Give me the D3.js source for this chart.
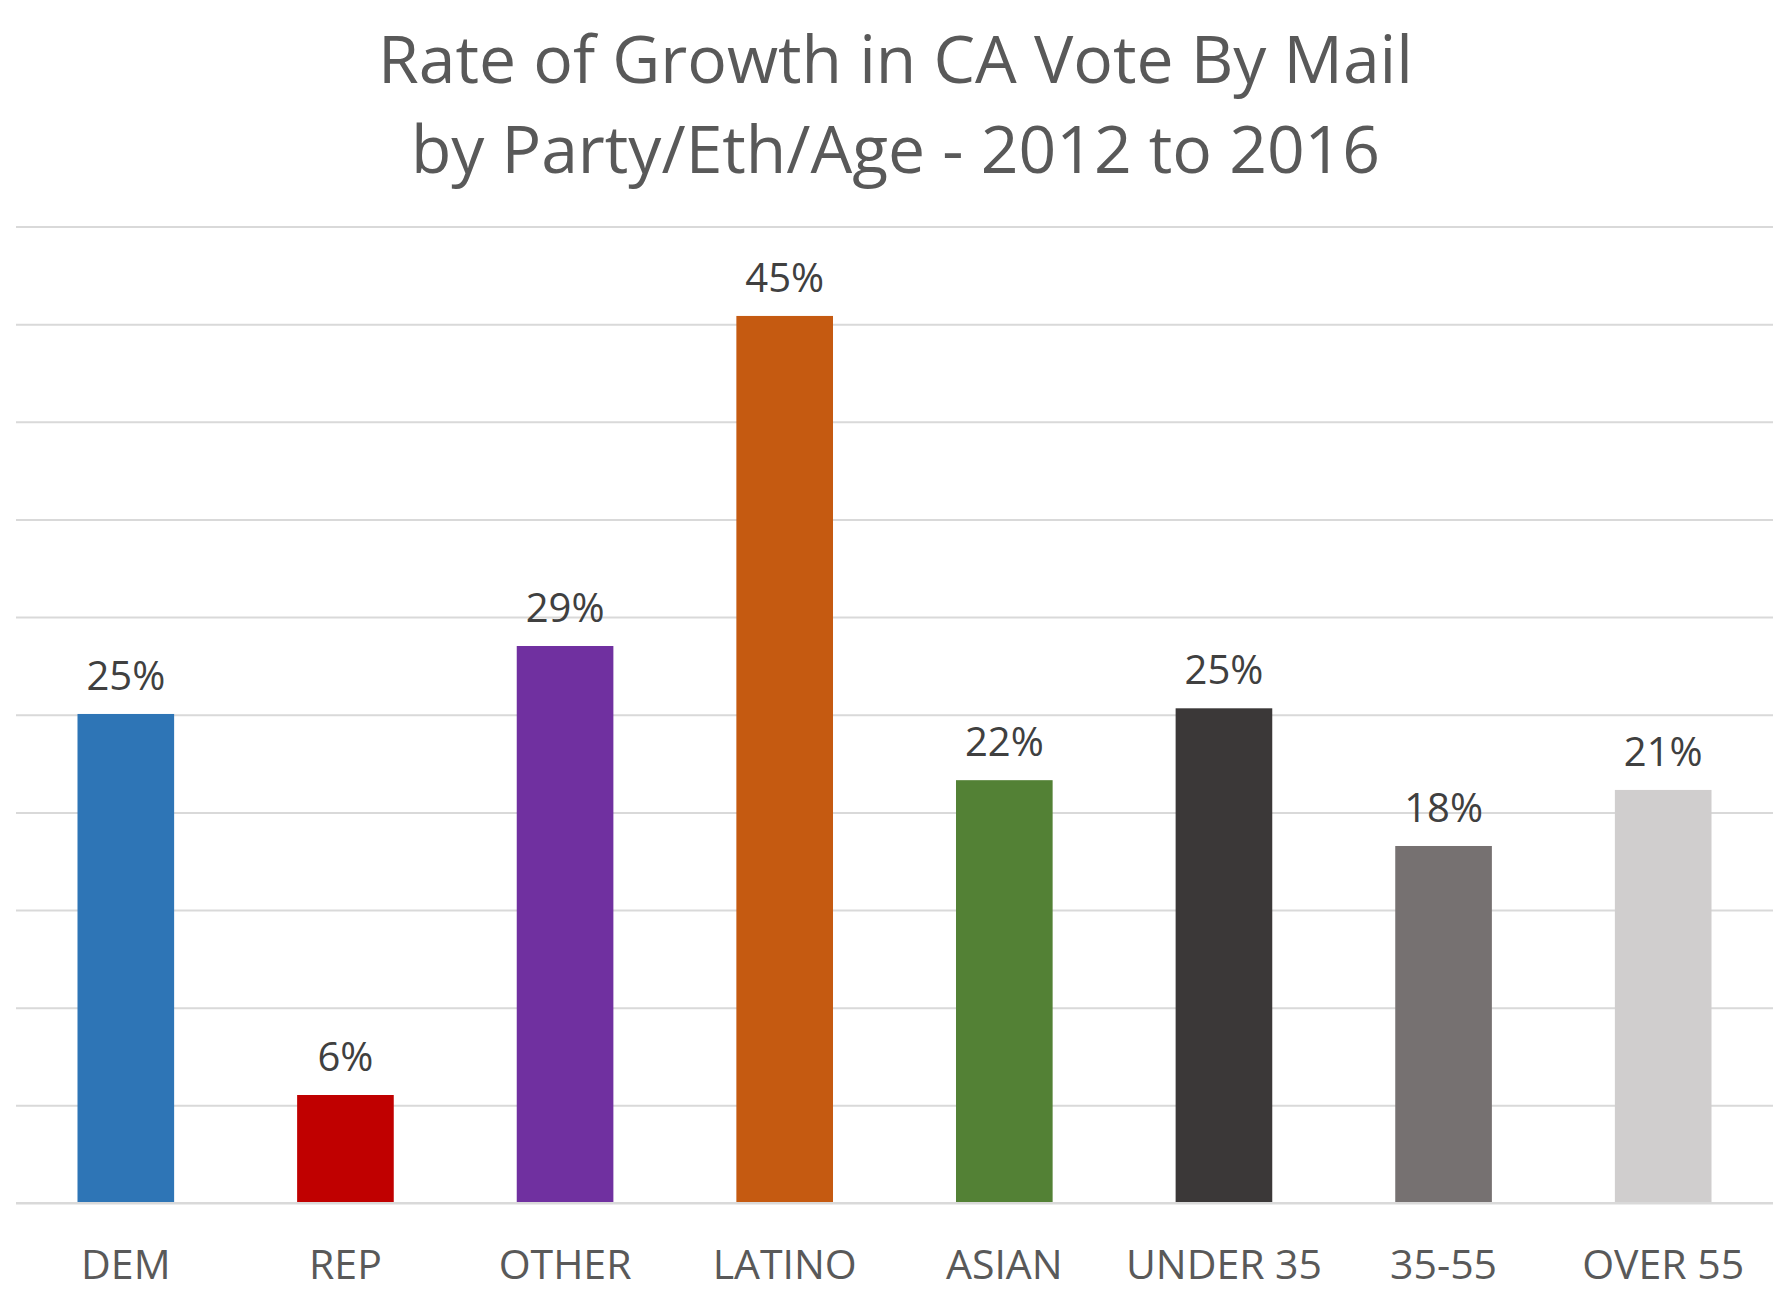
<!DOCTYPE html>
<html>
<head>
<meta charset="utf-8">
<script src="https://cdn.jsdelivr.net/npm/d3@7"></script>
<style>
  html, body { margin: 0; padding: 0; background: #ffffff; }
  svg { display: block; }
  text { font-family: "Open Sans", "Noto Sans", sans-serif; }
</style>
</head>
<body>
<svg id="chart" width="1789" height="1293"></svg>
<script>
// ---- data ----
const categories = ["DEM", "REP", "OTHER", "LATINO", "ASIAN", "UNDER 35", "35-55", "OVER 55"];
const values = [0.2504, 0.0553, 0.2852, 0.4542, 0.2165, 0.2533, 0.1828, 0.2115];
const colors = ["#2E75B6", "#C00000", "#7030A0", "#C55A11", "#538135", "#3B3838", "#767171", "#D0CECE"];
const yTicks = [0, 0.05, 0.10, 0.15, 0.20, 0.25, 0.30, 0.35, 0.40, 0.45, 0.50];
const titleLines = ["Rate of Growth in CA Vote By Mail", "by Party/Eth/Age - 2012 to 2016"];

// ---- layout ----
const W = 1789, H = 1293;
const plot = { left: 16, right: 1773, top: 226.5, bottom: 1203 };

const svg = d3.select("#chart");

const x = d3.scaleBand()
  .domain(categories)
  .range([plot.left, plot.right])
  .paddingInner(0.56)
  .paddingOuter(0.28);

const y = d3.scaleLinear()
  .domain([0, 0.5])
  .range([plot.bottom, plot.top]);

// title
svg.append("g").selectAll("text")
  .data(titleLines)
  .join("text")
  .attr("x", W / 2 + 1)
  .attr("y", (d, i) => 83 + i * 90)
  .attr("text-anchor", "middle")
  .attr("fill", "#595959")
  .attr("font-size", 66)
  .text(d => d);

// gridlines via axis
const grid = svg.append("g")
  .attr("transform", `translate(${plot.left},0)`)
  .call(d3.axisRight(y).tickValues(yTicks).tickSize(plot.right - plot.left).tickFormat(""));
grid.select(".domain").remove();
grid.selectAll(".tick line").attr("stroke", "#D9D9D9").attr("stroke-width", 2);

// bars
svg.append("g").selectAll("rect")
  .data(categories)
  .join("rect")
  .attr("x", d => x(d))
  .attr("width", x.bandwidth())
  .attr("y", (d, i) => y(values[i]))
  .attr("height", (d, i) => y(0) - y(values[i]))
  .attr("fill", (d, i) => colors[i]);

// baseline over bars
svg.append("line")
  .attr("x1", plot.left).attr("x2", plot.right)
  .attr("y1", y(0)).attr("y2", y(0))
  .attr("stroke", "#D9D9D9").attr("stroke-width", 2);

// data labels
const fmt = d3.format(".0%");
svg.append("g").selectAll("text")
  .data(categories)
  .join("text")
  .attr("x", d => x(d) + x.bandwidth() / 2)
  .attr("y", (d, i) => y(values[i]) - 24)
  .attr("text-anchor", "middle")
  .attr("fill", "#404040")
  .attr("font-size", 40)
  .text((d, i) => fmt(values[i]));

// category axis
const xAxis = svg.append("g")
  .attr("transform", `translate(0,${plot.bottom})`)
  .call(d3.axisBottom(x).tickSize(0).tickPadding(0));
xAxis.select(".domain").remove();
xAxis.selectAll(".tick text")
  .attr("y", 76)
  .attr("dy", null)
  .attr("font-size", 41)
  .attr("font-family", "'Open Sans', 'Noto Sans', sans-serif")
  .attr("fill", "#595959");
</script>
</body>
</html>
